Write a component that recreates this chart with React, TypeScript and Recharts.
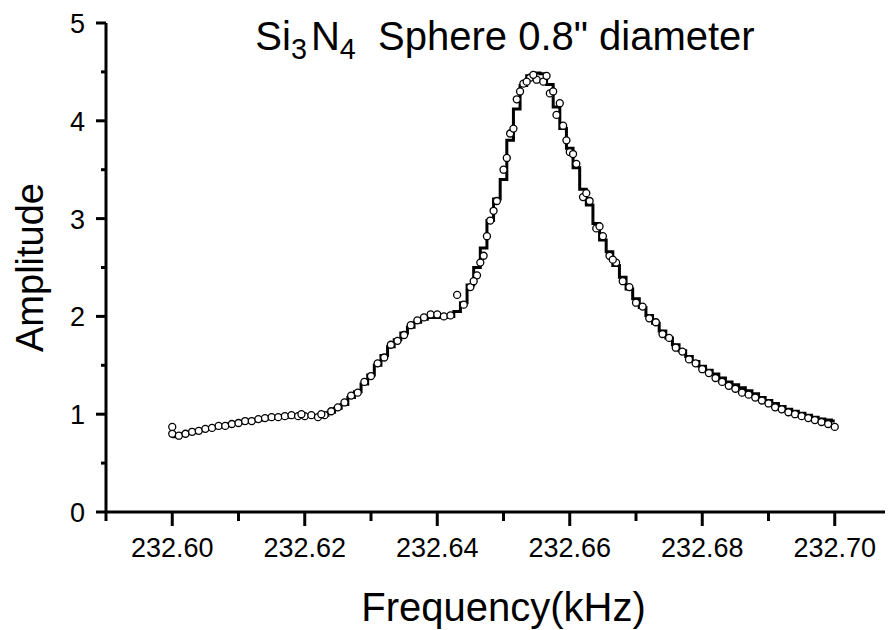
import React from 'react';
import { ComposedChart, Line, Scatter, XAxis, YAxis } from 'recharts';

// frequency (kHz) of each sample
const freq = [
  232.6, 232.601, 232.602, 232.603, 232.604, 232.605, 232.606, 232.607, 232.608, 232.609,
  232.61, 232.611, 232.612, 232.613, 232.614, 232.615, 232.616, 232.617, 232.618, 232.619,
  232.62, 232.621, 232.622, 232.623, 232.624, 232.625, 232.626, 232.627, 232.628, 232.629,
  232.63, 232.631, 232.632, 232.633, 232.634, 232.635, 232.636, 232.637, 232.638, 232.639,
  232.64, 232.641, 232.642, 232.643, 232.644, 232.645, 232.646, 232.647, 232.648, 232.649,
  232.65, 232.651, 232.652, 232.653, 232.654, 232.655, 232.656, 232.657, 232.658, 232.659,
  232.66, 232.661, 232.662, 232.663, 232.664, 232.665, 232.666, 232.667, 232.668, 232.669,
  232.67, 232.671, 232.672, 232.673, 232.674, 232.675, 232.676, 232.677, 232.678, 232.679,
  232.68, 232.681, 232.682, 232.683, 232.684, 232.685, 232.686, 232.687, 232.688, 232.689,
  232.69, 232.691, 232.692, 232.693, 232.694, 232.695, 232.696, 232.697, 232.698, 232.699,
  232.7,
];

// fitted curve (solid line)
const fitAmp = [
  0.77, 0.79, 0.8, 0.81, 0.83, 0.845, 0.86, 0.87, 0.885, 0.9,
  0.91, 0.92, 0.93, 0.94, 0.95, 0.96, 0.965, 0.97, 0.975, 0.975,
  0.98, 0.98, 0.98, 0.99, 1.02, 1.06, 1.1, 1.17, 1.23, 1.31,
  1.4, 1.5, 1.6, 1.69, 1.76, 1.83, 1.89, 1.94, 1.97, 1.99,
  1.99, 1.99, 2.0, 2.05, 2.14, 2.32, 2.5, 2.7, 2.98, 3.2,
  3.4, 3.8, 4.12, 4.36, 4.46, 4.49, 4.48, 4.37, 4.14, 3.92,
  3.72, 3.52, 3.3, 3.14, 2.95, 2.78, 2.66, 2.52, 2.4, 2.28,
  2.18, 2.09, 2.01, 1.93, 1.85, 1.78, 1.71, 1.65, 1.59, 1.54,
  1.49, 1.45, 1.41, 1.37, 1.33, 1.3, 1.27, 1.24, 1.21, 1.17,
  1.14, 1.11, 1.08, 1.05, 1.03, 1.01, 0.99, 0.97, 0.95, 0.94,
  0.93,
];

// measured points (open circles)
const measAmp = [
  0.8, 0.78, 0.8, 0.82, 0.83, 0.85, 0.86, 0.88, 0.88, 0.9,
  0.91, 0.93, 0.93, 0.95, 0.96, 0.97, 0.97, 0.98, 0.99, 0.98,
  0.98, 0.99, 0.97, 0.99, 1.03, 1.07, 1.12, 1.19, 1.22, 1.33,
  1.39, 1.52, 1.58, 1.71, 1.75, 1.81, 1.91, 1.96, 1.99, 2.02,
  2.02, 2.0, 2.01, 2.22, 2.12, 2.3, 2.42, 2.62, 2.98, 3.18,
  3.5, 3.87, 4.22, 4.38, 4.44, 4.42, 4.4, 4.28, 4.06, 3.95,
  3.68, 3.56, 3.22, 3.18, 2.9, 2.82, 2.62, 2.55, 2.36, 2.3,
  2.14, 2.1, 1.98, 1.94, 1.82, 1.78, 1.68, 1.64, 1.56, 1.52,
  1.46, 1.42, 1.37, 1.33, 1.29, 1.26, 1.22, 1.2, 1.17, 1.14,
  1.11, 1.07, 1.05, 1.02, 1.0, 0.98, 0.96, 0.94, 0.92, 0.9,
  0.87,
];

// repeated measurements
const extraFreq = [
  232.6, 232.6195, 232.6225, 232.6455, 232.6465, 232.6475, 232.6485, 232.6505, 232.6515, 232.6525,
  232.6535, 232.6545, 232.6565, 232.6575, 232.6585, 232.6595, 232.6605, 232.6625, 232.6645, 232.6665,
];
const extraAmp = [
  0.87, 1.0, 1.0, 2.36, 2.55, 2.82, 3.08, 3.62, 3.92, 4.3,
  4.4, 4.47, 4.46, 4.3, 4.18, 3.8, 3.66, 3.26, 2.92, 2.58,
];

const freqTicks = [
  232.59, 232.6, 232.61, 232.62, 232.63, 232.64, 232.65, 232.66, 232.67, 232.68, 232.69, 232.7, 232.71,
];
const ampTicks = [0, 0.5, 1, 1.5, 2, 2.5, 3, 3.5, 4, 4.5, 5];

const FONT = '"Liberation Sans", Arial, Helvetica, sans-serif';

const fitData = freq.map((f, i) => ({ f, fit: fitAmp[i] }));
const measData = freq
  .map((f, i) => ({ f, amp: measAmp[i] }))
  .concat(extraFreq.map((f, i) => ({ f, amp: extraAmp[i] })));

const FreqTick = (props: any) => {
  const { x, y, payload } = props;
  const major = Math.round(payload.value * 100) % 2 === 0;
  return (
    <g>
      <line x1={x} y1={y} x2={x} y2={y + (major ? 14 : 9)} stroke="#000" strokeWidth={3} />
      {major && (
        <text x={x} y={y + 45} textAnchor="middle" fontSize={27} fontFamily={FONT} fill="#000">
          {payload.value.toFixed(2)}
        </text>
      )}
    </g>
  );
};

const AmpTick = (props: any) => {
  const { x, y, payload } = props;
  const major = Number.isInteger(payload.value);
  return (
    <g>
      <line x1={x} y1={y} x2={x - (major ? 10 : 5)} y2={y} stroke="#000" strokeWidth={3} />
      {major && (
        <text x={x - 21} y={y + 10} textAnchor="end" fontSize={27} fontFamily={FONT} fill="#000">
          {payload.value}
        </text>
      )}
    </g>
  );
};

const Circle = (props: any) => (
  <circle cx={props.cx} cy={props.cy} r={3.5} fill="#fff" stroke="#000" strokeWidth={1.3} />
);

export default function App() {
  return (
    <div style={{ position: 'relative', width: 885, height: 622, overflow: 'hidden', background: '#fff' }}>
      <ComposedChart width={893} height={622} data={fitData} margin={{ top: 15, right: 0, bottom: 0, left: 0 }}>
        <XAxis
          dataKey="f"
          type="number"
          domain={[232.59, 232.71]}
          allowDataOverflow
          ticks={freqTicks}
          interval={0}
          height={118}
          tickSize={0}
          tickMargin={0}
          tickLine={false}
          tick={<FreqTick />}
          axisLine={{ stroke: '#000', strokeWidth: 3 }}
          label={{
            value: 'Frequency(kHz)',
            position: 'insideBottom',
            offset: 9,
            fill: '#000',
            style: { fontSize: 40, fontFamily: FONT, fill: '#000' },
          }}
        />
        <YAxis
          type="number"
          domain={[0, 5]}
          allowDataOverflow
          ticks={ampTicks}
          interval={0}
          width={98}
          tickSize={0}
          tickMargin={0}
          tickLine={false}
          tick={<AmpTick />}
          axisLine={{ stroke: '#000', strokeWidth: 3 }}
          label={{
            value: 'Amplitude',
            angle: -90,
            position: 'insideLeft',
            offset: 22,
            fill: '#000',
            style: { textAnchor: 'middle', fontSize: 38, fontFamily: FONT, fill: '#000' },
          }}
        />
        <Line
          dataKey="fit"
          type="step"
          stroke="#000"
          strokeWidth={3}
          dot={false}
          isAnimationActive={false}
        />
        <Scatter data={measData} dataKey="amp" shape={<Circle />} isAnimationActive={false} />
      </ComposedChart>
      <div
        style={{
          position: 'absolute',
          left: 497,
          top: 8,
          transform: 'translateX(-50%)',
          whiteSpace: 'nowrap',
          fontFamily: FONT,
          fontSize: 40,
          lineHeight: '40px',
          color: '#000',
        }}
      >
        Si<span style={{ fontSize: '0.72em', position: 'relative', top: '0.3em' }}>3</span>
        <span style={{ marginLeft: 4 }}>N</span>
        <span style={{ fontSize: '0.72em', position: 'relative', top: '0.3em' }}>4</span>
        {'\u00a0 Sphere 0.8" diameter'}
      </div>
    </div>
  );
}
